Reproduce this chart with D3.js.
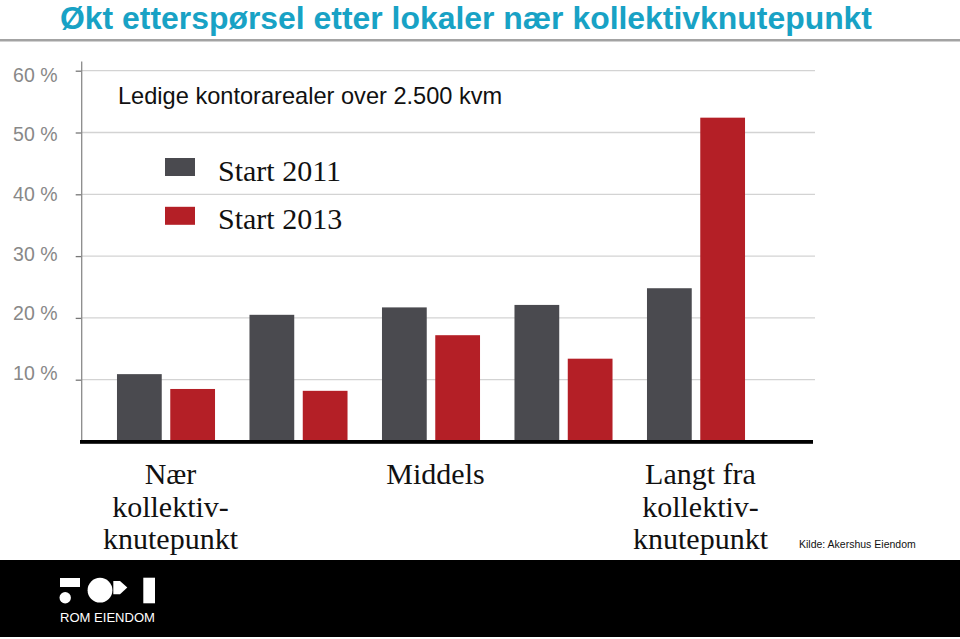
<!DOCTYPE html>
<html>
<head>
<meta charset="utf-8">
<script src="https://cdn.jsdelivr.net/npm/d3@7/dist/d3.min.js"></script>
<style>
  html, body { margin: 0; padding: 0; background: #ffffff; }
  svg { display: block; }
</style>
</head>
<body>
<svg id="chart" width="960" height="639"></svg>
<script>
// ---- data ----
const categories = ["naer", "mellom1", "middels", "mellom2", "langt"];
const categoryLabels = [
  ["Nær", "kollektiv-", "knutepunkt"],
  [],
  ["Middels"],
  [],
  ["Langt fra", "kollektiv-", "knutepunkt"]
];
const seriesNames = ["Start 2011", "Start 2013"];
const start2011 = [10.9, 20.5, 21.7, 22.1, 24.8];
const start2013 = [8.5, 8.2, 17.2, 13.4, 52.4];
const yTicks = [10, 20, 30, 40, 50, 60];
const yTickLabels = ["10 %", "20 %", "30 %", "40 %", "50 %", "60 %"];
const titleText = "Økt etterspørsel etter lokaler nær kollektivknutepunkt";
const subtitleText = "Ledige kontorarealer over 2.500 kvm";
const sourceText = "Kilde: Akershus Eiendom";
const logoText = "ROM EIENDOM";

// ---- styles ----
const colors = { "Start 2011": "#4a4a4f", "Start 2013": "#b41f26" };
const svg = d3.select("#chart");

// scales
const y = d3.scaleLinear().domain([0, 60]).range([441.5, 70.7]);
const yLabel = d3.scaleLinear().domain([10, 60]).range([372.8, 75]);
const x0 = d3.scaleBand().domain(categories).range([99.75, 762.25])
  .paddingInner(0.26).paddingOuter(0.13);
const x1 = d3.scaleBand().domain(seriesNames).range([0, x0.bandwidth()])
  .paddingInner(0.16).paddingOuter(0);

// title
svg.append("text")
  .attr("x", 60).attr("y", 28.5)
  .attr("font-family", "Liberation Sans, Arial, sans-serif")
  .attr("font-weight", "bold")
  .attr("font-size", 31)
  .attr("fill", "#18a2c5")
  .attr("textLength", 812)
  .attr("lengthAdjust", "spacingAndGlyphs")
  .text(titleText);

svg.append("rect")
  .attr("x", 0).attr("y", 39).attr("width", 960).attr("height", 2.5)
  .attr("fill", "#a3a3a3");

// gridlines
svg.append("g").selectAll("line").data(yTicks).join("line")
  .attr("x1", 82).attr("x2", 815)
  .attr("y1", d => y(d)).attr("y2", d => y(d))
  .attr("stroke", "#d3d3d3").attr("stroke-width", 1.3);

// y axis with ticks (labels drawn separately)
const yAxis = d3.axisLeft(y).tickValues(yTicks).tickSize(6).tickFormat("");
const gy = svg.append("g").attr("transform", "translate(81.7,0)").call(yAxis);
gy.select(".domain").remove();
gy.selectAll(".tick line").attr("stroke", "#777").attr("stroke-width", 1.3);
svg.append("line")
  .attr("x1", 81.7).attr("x2", 81.7).attr("y1", 61.5).attr("y2", 441)
  .attr("stroke", "#8a8a8a").attr("stroke-width", 1.3);

svg.append("g").selectAll("text").data(yTicks).join("text")
  .attr("x", 57.5).attr("y", d => yLabel(d))
  .attr("dy", "0.35em")
  .attr("text-anchor", "end")
  .attr("font-family", "Liberation Sans, Arial, sans-serif")
  .attr("font-size", 19.5)
  .attr("fill", "#888888")
  .text((d, i) => yTickLabels[i]);

// subtitle
svg.append("text")
  .attr("x", 118).attr("y", 104)
  .attr("font-family", "Liberation Sans, Arial, sans-serif")
  .attr("font-size", 23.6)
  .attr("fill", "#111")
  .text(subtitleText);

// bars
const rows = categories.map((c, i) => ({
  cat: c,
  values: [
    { s: seriesNames[0], v: start2011[i] },
    { s: seriesNames[1], v: start2013[i] }
  ]
}));
svg.append("g").selectAll("g").data(rows).join("g")
  .attr("transform", d => `translate(${x0(d.cat)},0)`)
  .selectAll("rect").data(d => d.values).join("rect")
  .attr("x", d => x1(d.s))
  .attr("width", x1.bandwidth())
  .attr("y", d => y(d.v))
  .attr("height", d => y(0) - y(d.v))
  .attr("fill", d => colors[d.s]);

// baseline
svg.append("rect")
  .attr("x", 80).attr("y", 440).attr("width", 733).attr("height", 3.8)
  .attr("fill", "#000");

// legend
const legend = svg.append("g").selectAll("g").data(seriesNames).join("g")
  .attr("transform", (d, i) => `translate(165,${158 + i * 48.8})`);
legend.append("rect")
  .attr("width", 30).attr("height", 18)
  .attr("fill", d => colors[d]);
legend.append("text")
  .attr("x", 53).attr("y", 22.6)
  .attr("font-family", "Liberation Serif, Georgia, serif")
  .attr("font-size", 30)
  .attr("fill", "#111")
  .text(d => d);

// x category labels
const xl = svg.append("g").selectAll("text").data(categories).join("text")
  .attr("text-anchor", "middle")
  .attr("font-family", "Liberation Serif, Georgia, serif")
  .attr("font-size", 30)
  .attr("fill", "#111")
  .attr("transform", d => `translate(${x0(d) + x0.bandwidth() / 2 + 4.5},484)`);
xl.each(function(d, i) {
  d3.select(this).selectAll("tspan").data(categoryLabels[i]).join("tspan")
    .attr("x", 0).attr("y", (t, j) => j * 32.7)
    .text(t => t);
});

// source
svg.append("text")
  .attr("x", 799).attr("y", 548)
  .attr("font-family", "Liberation Sans, Arial, sans-serif")
  .attr("font-size", 10.5)
  .attr("fill", "#111")
  .text(sourceText);

// footer
svg.append("rect")
  .attr("x", 0).attr("y", 560).attr("width", 960).attr("height", 77)
  .attr("fill", "#000");
const logo = svg.append("g").attr("fill", "#fff");
logo.append("rect").attr("x", 60).attr("y", 578).attr("width", 20).attr("height", 9);
logo.append("circle").attr("cx", 65.2).attr("cy", 597.8).attr("r", 5.7);
logo.append("circle").attr("cx", 100).attr("cy", 590.2).attr("r", 12.4);
logo.append("path").attr("d", "M113.3,581 L120,581 L127.3,587.6 L120,594.3 L113.3,594.3 Z");
logo.append("rect").attr("x", 143.3).attr("y", 577.7).attr("width", 11.7).attr("height", 25.6);
logo.append("text")
  .attr("x", 60).attr("y", 621.7)
  .attr("font-family", "Liberation Sans, Arial, sans-serif")
  .attr("font-size", 12.8)
  .attr("textLength", 95)
  .attr("lengthAdjust", "spacingAndGlyphs")
  .text(logoText);
</script>
</body>
</html>
